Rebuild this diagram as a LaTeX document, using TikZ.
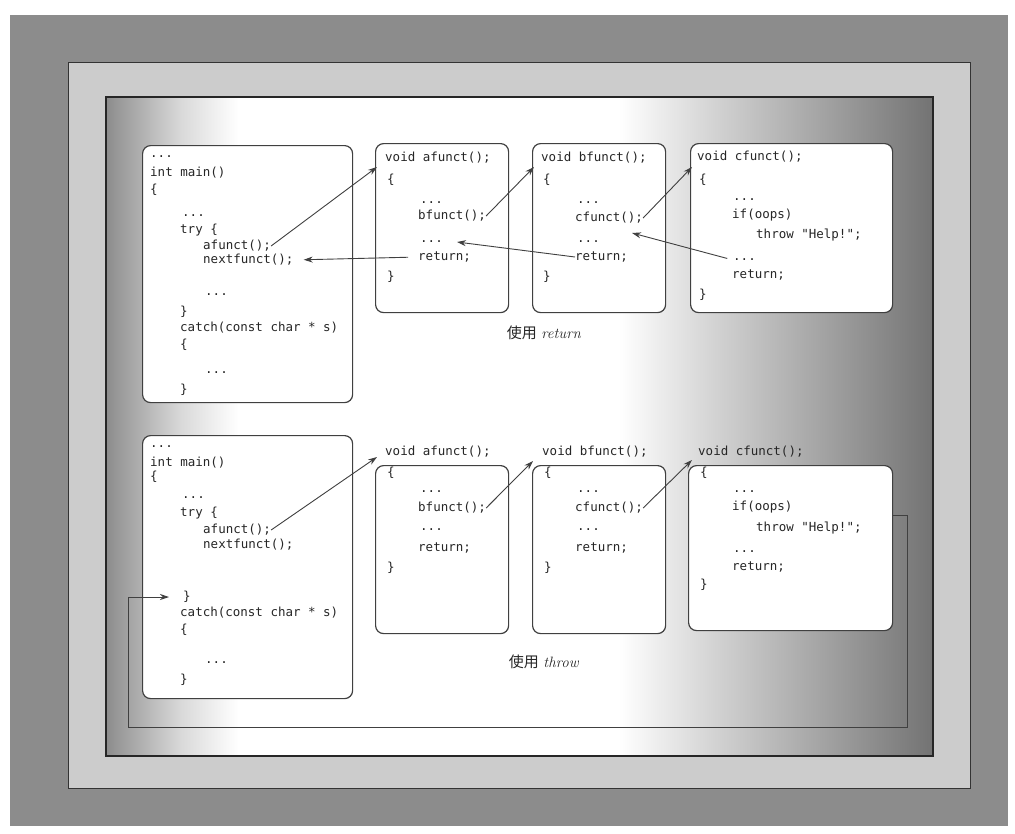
\documentclass[tikz,border=0pt]{standalone}
\usepackage{fontspec}
\usetikzlibrary{arrows.meta}
\newfontfamily\codefont{DejaVu Sans Mono}
\newfontfamily\cjkfont{Noto Sans CJK SC}
% grey at both sides, white in the middle of the panel
\pgfdeclarehorizontalshading{panelshade}{100bp}{color(0bp)=(black!45); color(25bp)=(black!45); color(29.5bp)=(black!15); color(33bp)=(white); color(56bp)=(white); color(62bp)=(black!18); color(75bp)=(black!55); color(100bp)=(black!55)}
\tikzset{
  codebox/.style={draw=black!75, line width=1.2pt, fill=white, rounded corners=8pt, anchor=north west, inner sep=0pt},
  code/.style={font={\codefont\fontsize{12.5}{14}\selectfont}, text=black!85, anchor=west, inner sep=0pt},
  callarrow/.style={draw=black!75, line width=0.9pt, -{Stealth[length=9pt,width=6pt]}},
  captext/.style={font={\fontsize{15}{18}\selectfont}, text=black!85}
}

\begin{document}
\begin{tikzpicture}[x=1pt,y=-1pt]
\useasboundingbox (0,0) rectangle (1015,833);
% frame
\fill[black!45] (10,15) rectangle (1008,826);
\filldraw[fill=black!20, draw=black!80, line width=1pt] (68,62) rectangle (970,788);
\shade[shading=panelshade] (106,97) rectangle (933,756);
\draw[black!85, line width=1.2pt] (106,97) rectangle (933,756);

% ---- using return ----
\node[codebox, minimum width=210pt, minimum height=257pt] (m1box) at (142,145) {};
\node[codebox, minimum width=133pt, minimum height=169pt] (a1box) at (375,143) {};
\node[codebox, minimum width=133pt, minimum height=169pt] (b1box) at (532,143) {};
\node[codebox, minimum width=202pt, minimum height=169pt] (c1box) at (690,143) {};

\node[code] (m1l1) at (150,157) {...};
\node[code] (m1l2) at (150,173) {int main()};
\node[code] (m1l3) at (150,190) {\{};
\node[code] (m1l4) at (182,216) {...};
\node[code] (m1try) at (180,230) {try \{};
\node[code] (m1call) at (203,246) {afunct();};
\node[code] (m1next) at (203,260) {nextfunct();};
\node[code] (m1l8) at (205,295) {...};
\node[code] (m1l9) at (180,312) {\}};
\node[code] (m1catch) at (180,328) {catch(const char * s)};
\node[code] (m1l11) at (180,345) {\{};
\node[code] (m1l12) at (205,373) {...};
\node[code] (m1l13) at (180,390) {\}};

\node[code] (a1head) at (385,158) {void afunct();};
\node[code] (a1l2) at (387,180) {\{};
\node[code] (a1l3) at (420,203) {...};
\node[code] (a1call) at (418,216) {bfunct();};
\node[code] (a1dots) at (420,242) {...};
\node[code] (a1ret) at (418,257) {return;};
\node[code] (a1l7) at (387,277) {\}};

\node[code] (b1head) at (541,158) {void bfunct();};
\node[code] (b1l2) at (543,180) {\{};
\node[code] (b1l3) at (577,203) {...};
\node[code] (b1call) at (575,218) {cfunct();};
\node[code] (b1dots) at (577,242) {...};
\node[code] (b1ret) at (575,257) {return;};
\node[code] (b1l7) at (543,277) {\}};

\node[code] (c1head) at (697,157) {void cfunct();};
\node[code] (c1l2) at (699,180) {\{};
\node[code] (c1l3) at (733,200) {...};
\node[code] (c1if) at (732,215) {if(oops)};
\node[code] (c1throw) at (756,235) {throw "Help!";};
\node[code] (c1dots) at (733,260) {...};
\node[code] (c1ret) at (732,275) {return;};
\node[code] (c1l8) at (699,295) {\}};

\node[captext] (cap1) at (544,333) {{\cjkfont 使用} \textit{return}};

\coordinate (a1in) at (377,167);
\coordinate (b1in) at (534,167);
\coordinate (c1in) at (692,167);
\coordinate (b1back) at (632,233);
\coordinate (a1back) at (457,242);
\draw[callarrow] (m1call.east) -- (a1in);
\draw[callarrow] (a1call.east) -- (b1in);
\draw[callarrow] (b1call.east) -- (c1in);
\draw[callarrow, shorten <=6pt] (c1dots.west) -- (b1back);
\draw[callarrow] (b1ret.west) -- (a1back);
\draw[callarrow, shorten <=10pt, shorten >=10pt] (a1ret.west) -- (m1next.east);

% ---- using throw ----
\node[codebox, minimum width=210pt, minimum height=263pt] (m2box) at (142,435) {};
\node[codebox, minimum width=133pt, minimum height=168pt] (a2box) at (375,465) {};
\node[codebox, minimum width=133pt, minimum height=168pt] (b2box) at (532,465) {};
\node[codebox, minimum width=204pt, minimum height=165pt] (c2box) at (688,465) {};

\node[code] (m2l1) at (150,447) {...};
\node[code] (m2l2) at (150,463) {int main()};
\node[code] (m2l3) at (150,477) {\{};
\node[code] (m2l4) at (182,498) {...};
\node[code] (m2try) at (180,513) {try \{};
\node[code] (m2call) at (203,530) {afunct();};
\node[code] (m2next) at (203,545) {nextfunct();};
\node[code] (m2close) at (183,597) {\}};
\node[code] (m2catch) at (180,613) {catch(const char * s)};
\node[code] (m2l10) at (180,630) {\{};
\node[code] (m2l11) at (205,663) {...};
\node[code] (m2l12) at (180,680) {\}};

\node[code] (a2head) at (385,452) {void afunct();};
\node[code] (a2l2) at (387,473) {\{};
\node[code] (a2l3) at (420,492) {...};
\node[code] (a2call) at (418,508) {bfunct();};
\node[code] (a2l5) at (420,530) {...};
\node[code] (a2ret) at (418,548) {return;};
\node[code] (a2l7) at (387,568) {\}};

\node[code] (b2head) at (542,452) {void bfunct();};
\node[code] (b2l2) at (544,473) {\{};
\node[code] (b2l3) at (577,492) {...};
\node[code] (b2call) at (575,508) {cfunct();};
\node[code] (b2l5) at (577,530) {...};
\node[code] (b2ret) at (575,548) {return;};
\node[code] (b2l7) at (544,568) {\}};

\node[code] (c2head) at (698,452) {void cfunct();};
\node[code] (c2l2) at (700,473) {\{};
\node[code] (c2l3) at (733,492) {...};
\node[code] (c2if) at (732,507) {if(oops)};
\node[code] (c2throw) at (756,528) {throw "Help!";};
\node[code] (c2l6) at (733,552) {...};
\node[code] (c2ret) at (732,567) {return;};
\node[code] (c2l8) at (700,585) {\}};

\node[captext] (cap2) at (544,662) {{\cjkfont 使用} \textit{throw}};

\coordinate (a2in) at (377,457);
\coordinate (b2in) at (533,461);
\coordinate (c2in) at (692,460);
\draw[callarrow] (m2call.east) -- (a2in);
\draw[callarrow] (a2call.east) -- (b2in);
\draw[callarrow] (b2call.east) -- (c2in);
% the throw goes round the outside, back to the catch
\coordinate (t1) at (907,515);
\coordinate (t2) at (907,727);
\coordinate (t3) at (128,727);
\draw[callarrow] (c2box.east |- t1) -- (t1) -- (t2) -- (t3) -- (t3 |- m2close) -- ([xshift=-14pt]m2close.west);
\end{tikzpicture}
\end{document}
